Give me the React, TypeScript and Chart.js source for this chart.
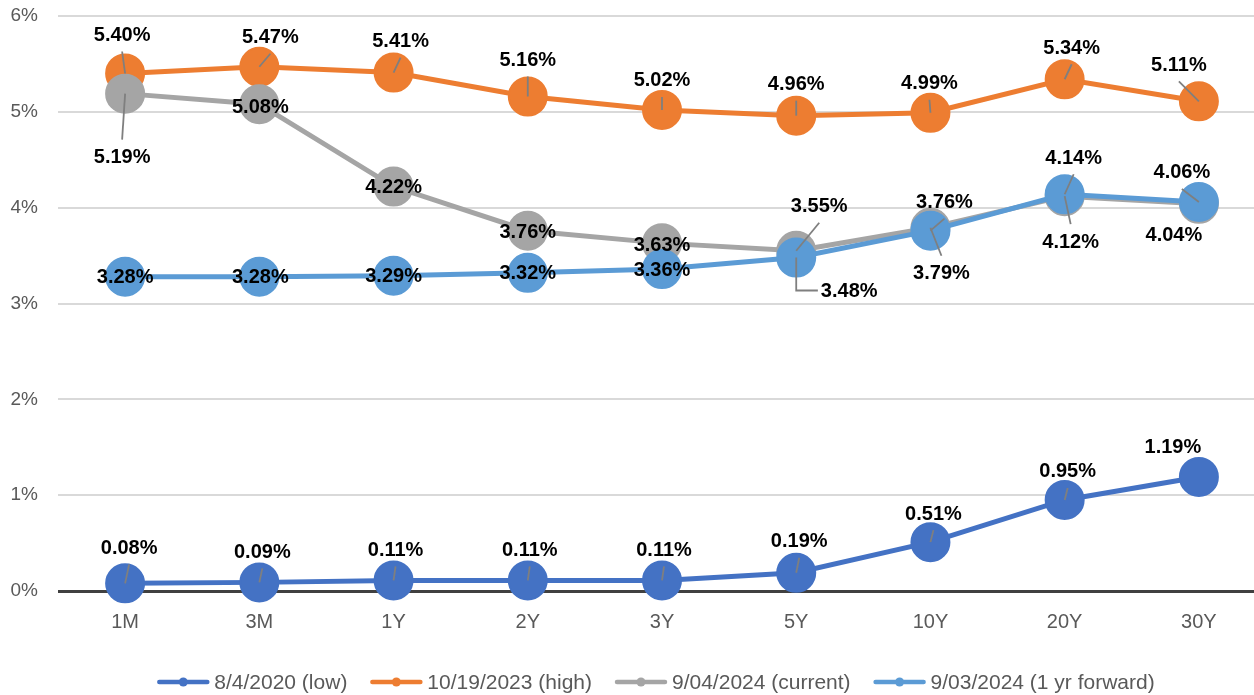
import React, { useEffect, useRef } from "react";
import { Chart, registerables } from "chart.js";

Chart.register(...registerables);

// Treasury yield curves by tenor (percent)
const tenors = ["1M", "3M", "1Y", "2Y", "3Y", "5Y", "10Y", "20Y", "30Y"];
const yieldsLow2020 = [0.08, 0.09, 0.11, 0.11, 0.11, 0.19, 0.51, 0.95, 1.19];
const yieldsHigh2023 = [5.4, 5.47, 5.41, 5.16, 5.02, 4.96, 4.99, 5.34, 5.11];
const yieldsCurrent2024 = [5.19, 5.08, 4.22, 3.76, 3.63, 3.55, 3.79, 4.12, 4.04];
const yieldsForward2024 = [3.28, 3.28, 3.29, 3.32, 3.36, 3.48, 3.76, 4.14, 4.06];
const seriesNames = [
  "8/4/2020 (low)",
  "10/19/2023 (high)",
  "9/04/2024 (current)",
  "9/03/2024 (1 yr forward)",
];
const seriesColors = ["#4472C4", "#ED7D31", "#A5A5A5", "#5B9BD5"];

// Data label placement: offset of the label centre from its point, in px
const lowLabelOffsets = [[4, -36], [3, -31], [2, -31], [2, -31], [2, -31], [3, -32], [3, -29], [3, -29], [-26, -30]];
const highLabelOffsets = [[-3, -39], [11, -30], [7, -32], [0, -37], [0, -30], [0, -32], [-1, -30], [7, -32], [-20, -37]];
const currentLabelOffsets = [[-3, 63], [1, 2], [0, 0], [0, 1], [0, 1], [23, -45], [11, 45], [6, 45], [-25, 31]];
const forwardLabelOffsets = [[0, 0], [1, 0], [0, 0], [0, 0], [0, 0], [53, 33], [14, -29], [9, -37], [-17, -30]];
const labelOffsets = [lowLabelOffsets, highLabelOffsets, currentLabelOffsets, forwardLabelOffsets];
// points whose labels are moved but show no leader line
const noLeader: number[][] = [[8], [], [8], []];

const FONT = "'Liberation Sans', Arial, sans-serif";
const CANVAS_W = 1266;
const CANVAS_H = 695;

const dataLabelPlugin = {
  id: "dataLabels",
  afterDatasetsDraw(chart: any) {
    const ctx = chart.ctx;
    ctx.save();
    ctx.font = `bold 20px ${FONT}`;
    const padX = 3;
    const padY = 10;
    const halfText = 7;
    chart.data.datasets.forEach((ds: any, di: number) => {
      const meta = chart.getDatasetMeta(di);
      meta.data.forEach((pt: any, i: number) => {
        const text = `${ds.data[i].toFixed(2)}%`;
        const [dx, dy] = labelOffsets[di][i];
        const px = pt.x;
        const py = pt.y;
        const lx = px + dx;
        const ly = py + dy;
        const w = ctx.measureText(text).width;
        if (!noLeader[di].includes(i)) {
          const left = lx - w / 2 - padX;
          const right = lx + w / 2 + padX;
          const top = ly - halfText - padY;
          const bottom = ly + halfText + padY;
          ctx.strokeStyle = "#7F7F7F";
          ctx.lineWidth = 1.8;
          ctx.beginPath();
          let draw = false;
          if (px >= left && px <= right) {
            if (py < top) {
              ctx.moveTo(lx, top);
              draw = true;
            } else if (py > bottom) {
              ctx.moveTo(lx, bottom);
              draw = true;
            }
            if (draw) ctx.lineTo(px, py);
          } else {
            const ax = px < left ? left : right;
            ctx.moveTo(ax, ly);
            ctx.lineTo(px, ly);
            ctx.lineTo(px, py);
            draw = true;
          }
          if (draw) ctx.stroke();
        }
        ctx.fillStyle = "#000000";
        ctx.textAlign = "center";
        ctx.textBaseline = "middle";
        ctx.fillText(text, lx, ly + 1);
      });
    });
    ctx.restore();
  },
};

const legendPlugin = {
  id: "curveLegend",
  afterDraw(chart: any) {
    const ctx = chart.ctx;
    ctx.save();
    ctx.font = `21px ${FONT}`;
    const symbolW = 52;
    const textGap = 5;
    const itemGap = 23;
    const widths = seriesNames.map((n) => ctx.measureText(n).width);
    const total =
      widths.reduce((a, b) => a + b, 0) + seriesNames.length * (symbolW + textGap) + (seriesNames.length - 1) * itemGap;
    let x = 656 - total / 2;
    const y = 682;
    seriesNames.forEach((name, i) => {
      const c = seriesColors[i];
      ctx.strokeStyle = c;
      ctx.lineWidth = 4.5;
      ctx.lineCap = "round";
      ctx.beginPath();
      ctx.moveTo(x + 2, y);
      ctx.lineTo(x + symbolW - 2, y);
      ctx.stroke();
      ctx.fillStyle = c;
      ctx.beginPath();
      ctx.arc(x + symbolW / 2, y, 4.5, 0, Math.PI * 2);
      ctx.fill();
      ctx.fillStyle = "#595959";
      ctx.textAlign = "left";
      ctx.textBaseline = "middle";
      ctx.fillText(name, x + symbolW + textGap, y + 1);
      x += symbolW + textGap + widths[i] + itemGap;
    });
    ctx.restore();
  },
};

// fixed axis footprints so the plot area sits at a set place on the canvas
const fixScaleBox = (width: number | null, height: number | null) => (s: any) => {
  if (width !== null) s.width = width;
  if (height !== null) s.height = height;
};

export default function App() {
  const canvasRef = useRef<HTMLCanvasElement | null>(null);

  useEffect(() => {
    if (!canvasRef.current) return;
    const seriesData = [yieldsLow2020, yieldsHigh2023, yieldsCurrent2024, yieldsForward2024];
    // later series sit on top: lower `order` is drawn last
    const drawOrder = [3, 2, 1, 0];
    const chart = new Chart(canvasRef.current, {
      type: "line",
      data: {
        labels: tenors,
        datasets: seriesData.map((d, i) => ({
          label: seriesNames[i],
          data: d,
          borderColor: seriesColors[i],
          backgroundColor: seriesColors[i],
          pointBackgroundColor: seriesColors[i],
          pointBorderColor: seriesColors[i],
          borderWidth: 5,
          pointRadius: 19,
          pointHoverRadius: 19,
          pointBorderWidth: 2,
          tension: 0,
          clip: false,
          order: drawOrder[i],
        })),
      },
      options: {
        responsive: false,
        animation: false,
        events: [],
        layout: { autoPadding: false, padding: { top: 16, left: 0, right: 0, bottom: 0 } },
        plugins: {
          legend: { display: false },
          tooltip: { enabled: false },
        },
        scales: {
          x: {
            type: "category",
            offset: true,
            grid: { display: false, drawTicks: false },
            border: { display: false },
            ticks: {
              color: "#595959",
              font: { family: FONT, size: 20 },
              padding: 19,
              maxRotation: 0,
            },
            afterFit: fixScaleBox(null, 104),
          },
          y: {
            min: 0,
            max: 6,
            ticks: {
              stepSize: 1,
              color: "#595959",
              font: { family: FONT, size: 19 },
              padding: 0,
              callback: (v: any) => `${v}%`,
            },
            grid: {
              drawTicks: true,
              tickLength: 20,
              tickColor: "rgba(0,0,0,0)",
              color: (c: any) => (c.tick && c.tick.value === 0 ? "#404040" : "#D9D9D9"),
              lineWidth: (c: any) => (c.tick && c.tick.value === 0 ? 3 : 2),
            },
            border: { display: false },
            afterFit: fixScaleBox(58, null),
          },
        },
      },
      plugins: [dataLabelPlugin, legendPlugin],
    });
    return () => chart.destroy();
  }, []);

  return (
    <div
      style={{
        position: "fixed",
        left: 0,
        top: 0,
        width: 1254,
        height: 695,
        overflow: "hidden",
        background: "#ffffff",
      }}
    >
      <canvas
        ref={canvasRef}
        width={CANVAS_W}
        height={CANVAS_H}
        style={{ width: CANVAS_W, height: CANVAS_H, display: "block" }}
      />
    </div>
  );
}
